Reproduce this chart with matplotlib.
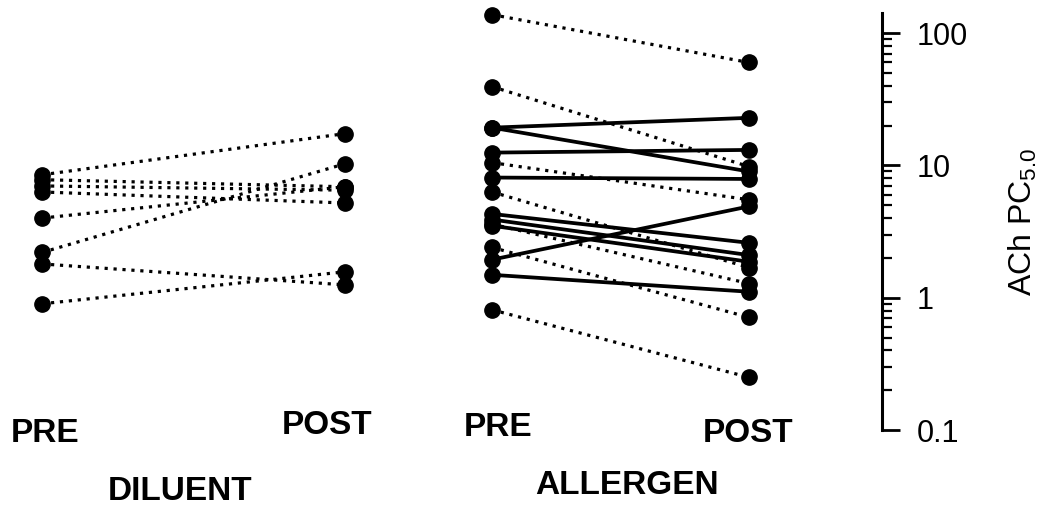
import matplotlib
matplotlib.use('Agg')
import matplotlib.pyplot as plt
from matplotlib.ticker import FixedLocator, LogLocator, NullFormatter

plt.rcParams['font.family'] = ['Liberation Sans', 'DejaVu Sans']
plt.rcParams['mathtext.default'] = 'regular'

# ACh PC5.0 per subject, pre and post challenge
dil_pre = [8.5, 7.8, 7.0, 6.3, 4.0, 2.2, 1.8, 0.90]
dil_post = [17.4, 6.9, 6.5, 5.2, 6.9, 10.3, 1.25, 1.57]

all_pre = [138, 39.4, 19.3, 19.3, 12.5, 10.5, 8.1, 6.3,
           4.3, 3.9, 3.5, 3.6, 2.4, 1.94, 1.49, 0.81]
all_post = [60, 9.8, 22.9, 9.0, 13.1, 5.5, 7.9, 1.69,
            2.6, 2.1, 1.87, 1.28, 0.71, 4.9, 1.11, 0.25]
all_solid = [False, False, True, True, True, False, True, False,
             True, True, True, False, False, True, True, False]

ytick_vals = [0.1, 1, 10, 100]
ytick_labels = ['0.1', '1', '10', '100']

x_dil = [0, 1]
x_all = [1.485, 2.333]

fig = plt.figure(figsize=(10.48, 5.11), dpi=100)
ax = fig.add_axes([0, 81/511, 882/1048, 417/511])

dots = dict(linestyle=(0, (1.0, 1.8)), linewidth=2.3, color='black',
            marker='o', markersize=11, clip_on=False)
for a, b in zip(dil_pre, dil_post):
    ax.plot(x_dil, [a, b], **dots)

for a, b, s in zip(all_pre, all_post, all_solid):
    if s:
        ax.plot(x_all, [a, b], '-', lw=2.7, color='black', marker='o',
                markersize=11, clip_on=False)
    else:
        ax.plot(x_all, [a, b], **dots)

ax.set_yscale('log')
ax.set_ylim(0.1, 142)
ax.set_xlim(-0.139, 2.772)

for s in ['top', 'left', 'bottom']:
    ax.spines[s].set_visible(False)
ax.spines['right'].set_linewidth(2.2)
ax.set_xticks([])
ax.yaxis.tick_right()
ax.yaxis.set_label_position('right')
ax.yaxis.set_major_locator(FixedLocator(ytick_vals))
ax.set_yticklabels(ytick_labels)
ax.yaxis.set_minor_locator(LogLocator(base=10, subs=range(2, 10)))
ax.yaxis.set_minor_formatter(NullFormatter())
ax.tick_params(axis='y', which='major', direction='out', length=13,
               width=2, labelsize=22, pad=12)
ax.tick_params(axis='y', which='minor', direction='out', length=7, width=1.6)
ax.set_ylabel('ACh PC$_{5.0}$', fontsize=23, labelpad=28)

lab = dict(ha='center', va='center', fontsize=24, fontweight='bold')
fig.text(45/1048, 1 - 433/511, 'PRE', **lab)
fig.text(327/1048, 1 - 425/511, 'POST', **lab)
fig.text(498/1048, 1 - 427/511, 'PRE', **lab)
fig.text(748/1048, 1 - 433/511, 'POST', **lab)
fig.text(180/1048, 1 - 492/511, 'DILUENT', **lab)
fig.text(627/1048, 1 - 486/511, 'ALLERGEN', **lab)

fig.savefig('out.png', dpi=100)
